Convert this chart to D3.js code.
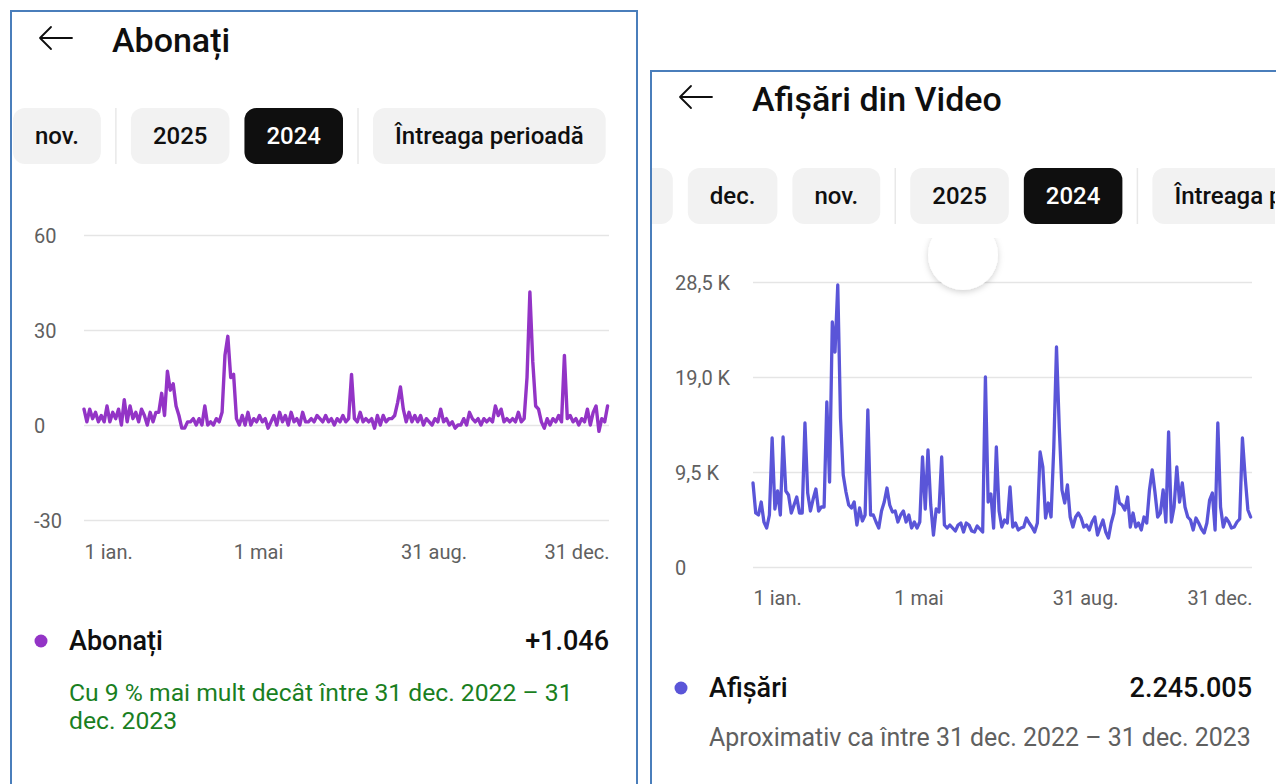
<!DOCTYPE html>
<html><head><meta charset="utf-8">
<script src="https://cdn.jsdelivr.net/npm/d3@7"></script>
<style>
body{margin:0;background:#fff;overflow:hidden}
svg{display:block;font-family:Roboto,"Noto Sans",sans-serif}
</style>
</head><body>
<svg id="c" width="1276" height="784"></svg>
<script>
// ---------- DATA ----------
const sampleStepDays = 2; // one reading every 2 days from 1 Jan 2024
const subscribersDaily = [5,1,5,2,4,1,3,1,6,1, 4,2,5,0,8,1,6,2,4,1, 5,3,0,4,1,4,4,10,3,17,
  11,13,6,3,-1,-1,1,1,2,0, 2,0,6,0,1,0,2,1,4,22, 28,15,16,2,0,3,0,4,0,2,
  1,3,1,2,-1,1,3,0,4,1, 3,0,4,1,2,0,4,1,1,2, 1,3,2,1,3,1,2,0,2,1,
  3,1,2,16,2,1,4,1,2,1, 2,-1,3,0,3,1,2,2,3,7, 12,5,1,4,1,3,1,3,0,2,
  1,0,2,1,5,1,2,0,1,-1, 0,0,2,0,4,2,1,2,0,2, 1,2,1,6,3,5,1,2,1,2,
  1,4,1,2,15,42,20,6,5,1, -1,2,0,2,1,3,1,22,2,3, 1,2,0,2,1,5,0,4,6,-2, 2,1,6];
const viewsDailyK = [8.4,5.4,5.2,6.5,4.5,3.9,5.2,12.9,5.8,7.6, 5.2,13.0,7.6,7.2,5.4,6.2,7.0,5.4,5.4,14.4,
  7.4,5.6,6.8,7.8,5.6,6.0,6.0,16.5,8.5,24.5, 21.5,28.2,14.9,9.2,7.5,6.2,5.9,6.5,4.2,5.9,
  4.6,5.2,15.7,5.2,5.2,4.5,3.9,5.6,6.5,7.9, 6.2,5.5,5.6,4.5,5.2,5.6,4.5,5.2,3.9,4.5,
  3.9,4.5,11.0,5.8,11.7,6.2,3.2,5.8,5.5,11.0, 4.2,3.9,4.2,3.9,3.6,4.2,4.4,3.5,4.4,4.2,
  3.6,3.5,4.1,3.8,3.5,19.0,6.5,7.3,3.9,12.0, 5.6,4.0,4.7,4.4,8.0,4.0,4.4,3.7,3.9,4.0,
  4.9,4.4,4.0,3.5,4.4,11.5,10.0,4.9,6.4,5.0, 11.9,22.0,14.0,7.7,6.4,8.2,5.0,4.0,5.0,5.4,
  4.9,4.0,4.2,3.7,4.5,5.0,3.2,4.0,4.7,3.5, 2.9,4.4,5.4,8.0,6.4,6.2,5.7,7.0,4.0,5.4,
  4.0,4.4,3.7,5.0,4.4,7.7,9.7,7.5,5.0,5.4, 7.7,4.5,13.5,4.5,6.0,10.0,6.5,8.4,6.0,5.0,
  4.7,3.7,4.9,4.4,3.8,3.4,4.4,6.7,7.4,3.7, 14.4,6.0,4.0,4.9,4.5,3.9,4.0,4.5,4.8,12.9, 9.0,5.7,5.0];

const xTickDates = ["2024-01-01","2024-05-01","2024-08-31","2024-12-31"];
const xTickLabels = ["1 ian.","1 mai","31 aug.","31 dec."];
const leftYTicks = [60,30,0,-30];
const leftYLabels = ["60","30","0","-30"];
const rightYTicks = [28.5,19.0,9.5,0];
const rightYLabels = ["28,5 K","19,0 K","9,5 K","0"];

const leftChips = ["nov.","|","2025","2024","|","Întreaga perioadă"];
const rightChips = ["oct.","dec.","nov.","|","2025","2024","|","Întreaga perioadă"];
const selectedChip = "2024";

const leftTitle = "Abonați", rightTitle = "Afișări din Video";
const leftLegend = {name:"Abonați", total:"+1.046", note:["Cu 9 % mai mult decât între 31 dec. 2022 – 31","dec. 2023"]};
const rightLegend = {name:"Afișări", total:"2.245.005", note:["Aproximativ ca între 31 dec. 2022 – 31 dec. 2023"]};

// ---------- DRAW ----------
const svg = d3.select("#c");
const parse = d3.timeParse("%Y-%m-%d");
const start = parse("2024-01-01"), end = parse("2024-12-31");
const FONT_GRAY = "#606060", INK = "#0f0f0f";

const defs = svg.append("defs");
const sh = defs.append("filter").attr("id","sh").attr("x","-50%").attr("y","-50%").attr("width","200%").attr("height","200%");
sh.append("feDropShadow").attr("dx",0).attr("dy",2).attr("stdDeviation",3).attr("flood-color","#000").attr("flood-opacity",0.18);
defs.append("clipPath").attr("id","rclip").append("rect").attr("x",652).attr("y",72).attr("width",623).attr("height",800);
defs.append("clipPath").attr("id","circclip").append("rect").attr("x",900).attr("y",238).attr("width",140).attr("height",100);

function panel(g, o){
  g.append("rect").attr("x",o.px).attr("y",o.py).attr("width",o.pw).attr("height",900)
    .attr("fill","#fff").attr("stroke","#4a7ebb").attr("stroke-width",2);
  const c = g.append("g").attr("clip-path", o.clip || null);
  c.append("path").attr("d",`M${o.ax} ${o.ay}H${o.ax+32}M${o.ax+11} ${o.ay-11}L${o.ax} ${o.ay}L${o.ax+11} ${o.ay+11}`)
    .attr("fill","none").attr("stroke",INK).attr("stroke-width",1.8).attr("stroke-linecap","round").attr("stroke-linejoin","round");
  c.append("text").attr("x",o.tx).attr("y",o.ty).attr("font-size",34).attr("font-weight",500).attr("fill",INK).text(o.title);

  let cx = o.chipX;
  o.chips.forEach(label=>{
    if(label==="|"){
      c.append("line").attr("x1",cx).attr("x2",cx).attr("y1",o.chipY).attr("y2",o.chipY+56).attr("stroke","#e8e8e8").attr("stroke-width",1.5);
      cx += 15; return;
    }
    const t = c.append("text").attr("font-size",24).attr("font-weight",500).text(label);
    const w = t.node().getComputedTextLength() + 44;
    const sel = label===selectedChip;
    c.insert("rect","text:last-child").attr("x",cx).attr("y",o.chipY).attr("width",w).attr("height",56).attr("rx",12)
      .attr("fill", sel ? "#0f0f0f" : "#f2f2f2");
    t.attr("x",cx+w/2).attr("y",o.chipY+28).attr("text-anchor","middle").attr("dominant-baseline","central")
      .attr("fill", sel ? "#fff" : INK);
    t.raise();
    cx += w + 15;
  });

  const x = d3.scaleTime().domain([start,end]).range([o.x0,o.x1]);
  const y = d3.scaleLinear().domain(o.yDomain).range([o.yBottom,o.yTop]);

  const ya = d3.axisLeft(y).tickValues(o.yTicks).tickSize(-(o.x1-o.x0)).tickFormat((d,i)=>o.yLabels[i]);
  const yg = c.append("g").attr("transform",`translate(${o.x0},0)`).call(ya);
  yg.select(".domain").remove();
  yg.selectAll(".tick line").attr("stroke","#e5e5e5").attr("stroke-width",1.5);
  yg.selectAll(".tick text").attr("x",o.labelX-o.x0).attr("text-anchor","start").attr("dy","0.35em")
    .attr("font-size",20).attr("fill",FONT_GRAY).attr("font-family","Roboto");

  const xa = d3.axisBottom(x).tickValues(xTickDates.map(parse)).tickSize(0).tickFormat((d,i)=>xTickLabels[i]);
  const xg = c.append("g").attr("transform",`translate(0,${o.xLabelY})`).call(xa);
  xg.select(".domain").remove();
  xg.selectAll(".tick text").attr("dy","0.35em").attr("y",0).attr("font-size",20).attr("fill",FONT_GRAY).attr("font-family","Roboto")
    .attr("text-anchor",(d,i,n)=> i===0 ? "start" : (i===n.length-1 ? "end" : "middle"));

  const data = o.values.map((v,i)=>({date: d3.timeDay.offset(start, i*sampleStepDays), v}));
  const line = d3.line().x(d=>x(d.date)).y(d=>y(d.v));
  c.append("path").datum(data).attr("d",line).attr("fill","none").attr("stroke",o.color)
    .attr("stroke-width",o.lw).attr("stroke-linejoin","round").attr("stroke-linecap","round");

  c.append("circle").attr("cx",o.dotX).attr("cy",o.legY).attr("r",6.5).attr("fill",o.color);
  c.append("text").attr("x",o.dotX+28).attr("y",o.legY).attr("dominant-baseline","central").attr("font-size",27).attr("font-weight",500).attr("fill",INK).text(o.legend.name);
  c.append("text").attr("x",o.x1).attr("y",o.legY).attr("dominant-baseline","central").attr("text-anchor","end").attr("font-size",27).attr("font-weight",500).attr("fill",INK).text(o.legend.total);
  o.legend.note.forEach((s,i)=>{
    c.append("text").attr("x",o.dotX+28).attr("y",o.noteY+i*28).attr("dominant-baseline","central").attr("font-size",o.noteSize)
      .attr("fill",o.noteColor).text(s);
  });
  return c;
}

panel(svg.append("g"), {
  px:11, py:11, pw:626, ax:40, ay:38, tx:112, ty:52, title:leftTitle,
  chips:leftChips, chipX:13, chipY:108,
  x0:84, x1:609, yTop:235, yBottom:520, yDomain:[-30,60], yTicks:leftYTicks, yLabels:leftYLabels, labelX:34,
  xLabelY:552, values:subscribersDaily, color:"#9334c6", lw:3.4,
  dotX:41, legY:641, legend:leftLegend, noteY:692, noteColor:"#1a7f1f", noteSize:24.7
});

panel(svg.append("g"), {
  px:651, py:71, pw:700, ax:680, ay:97, tx:752, ty:111, title:rightTitle, clip:"url(#rclip)",
  chips:rightChips, chipX:588, chipY:168,
  x0:753, x1:1252, yTop:282, yBottom:567, yDomain:[0,28.5], yTicks:rightYTicks, yLabels:rightYLabels, labelX:675,
  xLabelY:598, values:viewsDailyK, color:"#5a55d8", lw:3.3,
  dotX:681, legY:688, legend:rightLegend, noteY:737, noteColor:FONT_GRAY, noteSize:24.9
});
svg.append("g").attr("clip-path","url(#circclip)").append("circle").attr("cx",963).attr("cy",255).attr("r",35)
  .attr("fill","#fff").attr("filter","url(#sh)");
</script>
</body></html>
